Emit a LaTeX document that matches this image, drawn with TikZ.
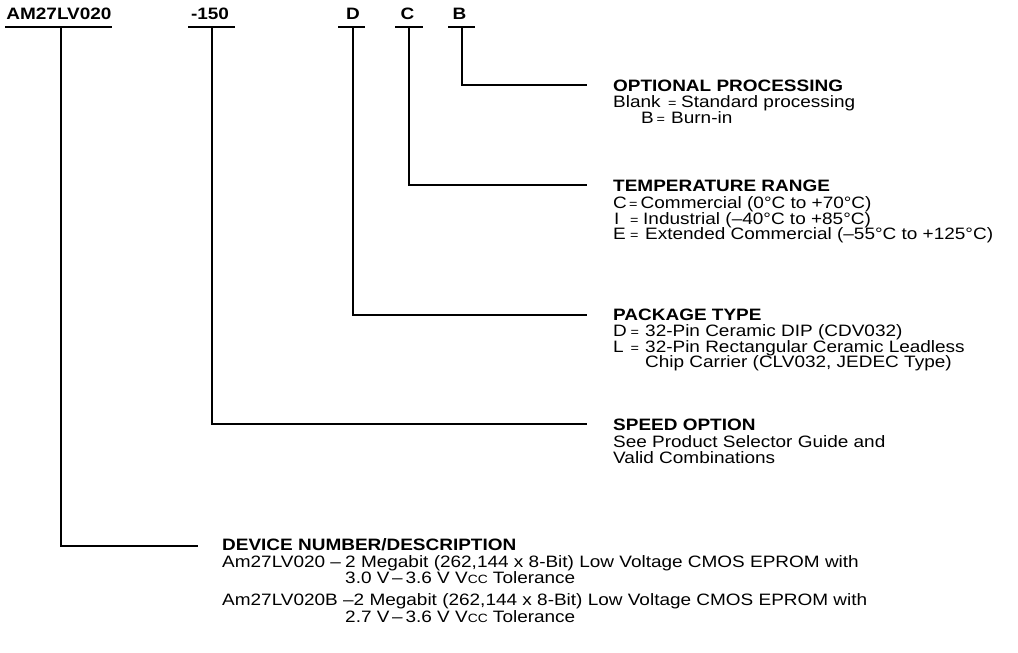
\documentclass[tikz,border=0pt]{standalone}
\usepackage{fontspec}
\setmainfont{Liberation Sans}[FakeStretch=1.15]
\newcommand{\vcc}{V{\fontsize{12pt}{12pt}\selectfont CC}}
\newcommand{\seq}{{\fontsize{12.5pt}{12pt}\selectfont =}}
\begin{document}
\begin{tikzpicture}[x=1pt,y=-1pt,
  txt/.style={anchor=base west, inner sep=0pt, font=\fontsize{16.5pt}{16pt}\selectfont},
  ttl/.style={anchor=base west, inner sep=0pt, font=\fontsize{16.5pt}{16pt}\selectfont\bfseries},
  hdr/.style={anchor=base, inner sep=0pt, font=\fontsize{16.5pt}{16pt}\selectfont\bfseries},
  ln/.style={line width=1.8pt},
  ul/.style={line width=2pt}]
\useasboundingbox (0,0) rectangle (1018,653);
% header
\node[hdr] (hAM) at (59,19.5) {AM27LV020};
\node[hdr] (h150) at (210,19.5) {-150};
\node[hdr] (hD) at (353,19.5) {D};
\node[hdr] (hC) at (407.5,19.5) {C};
\node[hdr] (hB) at (459.5,19.5) {B};
% underlines
\draw[ul] (5,27) -- (112,27);
\draw[ul] (188,27) -- (235,27);
\draw[ul] (338,27) -- (365,27);
\draw[ul] (395,27) -- (423,27);
\draw[ul] (448,27) -- (475,27);
% connector coordinates
\coordinate (uAM) at (61,27);   \coordinate (eAM) at (198,546);
\coordinate (u150) at (212,27); \coordinate (e150) at (587,424);
\coordinate (uD) at (353,27);   \coordinate (eD) at (587,315);
\coordinate (uC) at (409,27);   \coordinate (eC) at (587,185);
\coordinate (uB) at (462,27);   \coordinate (eB) at (587,85);
\draw[ln] (uAM) |- (eAM);
\draw[ln] (u150) |- (e150);
\draw[ln] (uD) |- (eD);
\draw[ln] (uC) |- (eC);
\draw[ln] (uB) |- (eB);
% optional processing
\node[ttl] (tB) at (613,91.7) {OPTIONAL PROCESSING};
\node[txt] (tB1) at (613,107.5) {\makebox[55pt][l]{Blank}\makebox[13pt][l]{\seq}Standard processing};
\node[txt] (tB2) at (641,123) {\makebox[15.5pt][l]{B}\makebox[14.5pt][l]{\seq}Burn-in};
% temperature
\node[ttl] (tC) at (613,191) {TEMPERATURE RANGE};
\node[txt] (tC1) at (613,208) {\makebox[16pt][l]{C}\makebox[11.5pt][l]{\seq}Commercial (0°C to +70°C)};
\node[txt] (tC2) at (614,224) {\makebox[16pt][l]{I}\makebox[13pt][l]{\seq}Industrial (–40°C to +85°C)};
\node[txt] (tC3) at (613,239.5) {\makebox[17pt][l]{E}\makebox[15pt][l]{\seq}Extended Commercial (–55°C to +125°C)};
% package
\node[ttl] (tD) at (613,320) {PACKAGE TYPE};
\node[txt] (tD1) at (613,336) {\makebox[17.5pt][l]{D}\makebox[14.5pt][l]{\seq}32-Pin Ceramic DIP (CDV032)};
\node[txt] (tD2) at (613,352) {\makebox[17.5pt][l]{L}\makebox[14.5pt][l]{\seq}32-Pin Rectangular Ceramic Leadless};
\node[txt] (tD3) at (645,367.5) {Chip Carrier (CLV032, JEDEC Type)};
% speed
\node[ttl] (tS) at (613,430) {SPEED OPTION};
\node[txt] (tS1) at (613,447) {See Product Selector Guide and};
\node[txt] (tS2) at (613,463) {Valid Combinations};
% device
\node[ttl] (tA) at (222,550) {DEVICE NUMBER/DESCRIPTION};
\node[txt] (tA1) at (222,567) {Am27LV020 –};
\node[txt] (tA1b) at (345,567) {2 Megabit (262,144 x 8-Bit) Low Voltage CMOS EPROM with};
\node[txt] (tA2) at (345,583) {3.0 V\,–\,3.6 V \vcc\ Tolerance};
\node[txt] (tA3) at (222,605) {Am27LV020B –2 Megabit (262,144 x 8-Bit) Low Voltage CMOS EPROM with};
\node[txt] (tA4) at (345,622) {2.7 V\,–\,3.6 V \vcc\ Tolerance};
\end{tikzpicture}
\end{document}
